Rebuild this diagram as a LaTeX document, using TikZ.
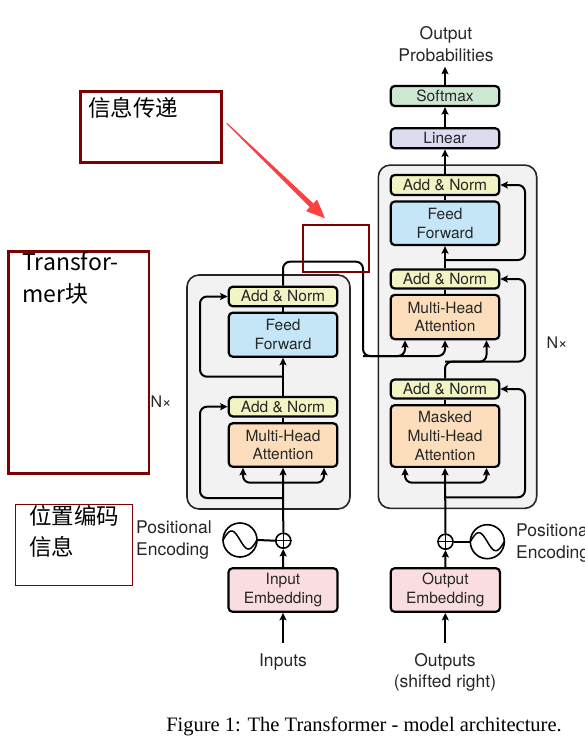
\documentclass[tikz,border=0pt]{standalone}
\usepackage{fontspec}
\setmainfont{TeX Gyre Heros}
\newfontfamily\cjkfont{Noto Sans CJK SC}
\newfontfamily\capfont{Liberation Serif}
\usetikzlibrary{arrows.meta,calc}
\definecolor{annred}{HTML}{7F0000}
\definecolor{arrred}{HTML}{FF4040}
\definecolor{cAN}{HTML}{F2F4C4}
\definecolor{cFF}{HTML}{C4E6F6}
\definecolor{cMHA}{HTML}{FCDEBD}
\definecolor{cEmb}{HTML}{FADDE1}
\definecolor{cLin}{HTML}{DCDCF1}
\definecolor{cSoft}{HTML}{CDE8D2}
\definecolor{cGray}{HTML}{F2F2F2}
\begin{document}
\begin{tikzpicture}[x=1pt,y=-1pt,
 blk/.style={draw=black, line width=2.2pt, rounded corners=4pt, minimum width=108.5pt, inner sep=0pt, align=center, text=black!85, font=\fontsize{15.5}{18.5}\selectfont},
 boxS/.style={blk, minimum height=19.5pt},
 boxL/.style={blk, minimum height=43.5pt},
 panel/.style={draw=black!85, line width=1.6pt, fill=cGray, rounded corners=12pt, inner sep=0pt},
 conn/.style={line width=2pt, draw=black},
 arr/.style={-{Stealth[length=7.5pt,width=7pt,inset=1.5pt]}},
 rc/.style={rounded corners=7pt},
 lbl/.style={text=black!85, font=\fontsize{17.5}{22}\selectfont, inner sep=0pt, align=center},
 pluscirc/.style={circle, draw, line width=1.6pt, minimum size=15pt, inner sep=0pt, fill=white},
 sinecirc/.style={circle, draw, line width=1.6pt, minimum size=34pt, inner sep=0pt},
 annbox/.style={draw=annred, line width=2.5pt},
 anntext/.style={font=\cjkfont\fontsize{22.5}{31.5}\selectfont, inner sep=0pt, anchor=west, align=left, text=black},
]
\useasboundingbox (0,0) rectangle (584,739);

% panels
\node[panel, minimum width=163pt, minimum height=234pt] (encP) at (268.5,392) {};
\node[panel, minimum width=158.4pt, minimum height=343.3pt] (decP) at (457.5,336.7) {};

% encoder blocks
\node[boxS, fill=cAN] (eAN2) at (283,296.5) {Add \& Norm};
\node[boxL, fill=cFF, minimum height=44pt] (eFF) at (283,334.7) {Feed\\Forward};
\node[boxS, fill=cAN] (eAN1) at (283,406.7) {Add \& Norm};
\node[boxL, fill=cMHA] (eMHA) at (283,445) {Multi-Head\\Attention};
\node[boxL, fill=cEmb, minimum width=109pt] (eEmb) at (283,590) {Input\\Embedding};
\node[pluscirc] (pe) at (283.3,540.7) {};
\node[sinecirc] (se) at (240,540) {};

% decoder blocks
\node[boxS, fill=cSoft, minimum height=20pt] (soft) at (445,96) {Softmax};
\node[boxS, fill=cLin, minimum height=20pt] (lin) at (445,138.3) {Linear};
\node[boxS, fill=cAN, minimum height=20pt] (dAN3) at (445,185) {Add \& Norm};
\node[boxL, fill=cFF] (dFF) at (445,223.3) {Feed\\Forward};
\node[boxS, fill=cAN, minimum height=19pt] (dAN2) at (445,279) {Add \& Norm};
\node[boxL, fill=cMHA, minimum height=44.3pt] (dMHA) at (445,317) {Multi-Head\\Attention};
\node[boxS, fill=cAN, minimum height=19pt] (dAN1) at (445,389) {Add \& Norm};
\node[boxL, fill=cMHA, minimum height=61.7pt, font=\fontsize{15.5}{19.2}\selectfont] (dMMHA) at (445,436) {Masked\\Multi-Head\\Attention};
\node[boxL, fill=cEmb, minimum width=109.3pt] (dEmb) at (445.3,590) {Output\\Embedding};
\node[pluscirc] (pd) at (445.5,541.7) {};
\node[sinecirc] (sd) at (487.3,541.7) {};

% labels
\node[lbl] (outprob) at (446,44) {Output\\Probabilities};
\node[lbl] (inputs) at (283,661.7) {Inputs};
\node[lbl, font=\fontsize{17.5}{21}\selectfont] (outputs) at (445,672.2) {Outputs\\(shifted right)};
\node[lbl, anchor=west, align=left] (peL) at (136,540.5) {Positional\\Encoding};
\node[lbl, anchor=west, align=left] (peR) at (516,543) {Positional\\Encoding};
\node[lbl, font=\fontsize{16}{19}\selectfont] (nxL) at (161,401.7) {N×};
\node[lbl, font=\fontsize{16}{19}\selectfont] (nxR) at (557,343) {N×};

% plus signs and sine waves
\foreach \c in {pe,pd}{
  \draw[line width=1.4pt] (\c.north) -- (\c.south) (\c.west) -- (\c.east);
}
\draw[line width=1.5pt, shift={(se.center)}] plot[domain=-17:17, samples=60, smooth] (\x,{9*sin(\x*180/17)});
\draw[line width=1.5pt, shift={(sd.center)}] plot[domain=-17:17, samples=60, smooth] (\x,{9*sin(\x*180/17)});

% coordinates
\coordinate (inArr) at (283,643);
\coordinate (outArr) at (445.3,643);
\coordinate (probArr) at (445,66.7);
\coordinate (eLeft) at (200,0);
\coordinate (dRight) at (525,0);
\coordinate (eSplit) at (283,482.7);
\coordinate (eR1) at (283,498);
\coordinate (eR2) at (283,376.7);
\coordinate (eTurn) at (363,261.7);
\coordinate (eDown) at (363,356);
\coordinate (dSplit) at (445,482.7);
\coordinate (dR1) at (445,497.3);
\coordinate (dQ) at (445,361.7);
\coordinate (dR3) at (445,260);

% encoder connectors
\draw[conn,arr] (inArr) -- (eEmb.south);
\draw[conn,arr] (eEmb.north) -- (pe.south);
\draw[conn] (se.east) -- (pe.west);
\draw[conn,arr] (pe.north) -- (eMHA.south);
\draw[conn,rc,arr] (eSplit) -| ([xshift=-40pt]eMHA.south);
\draw[conn,rc,arr] (eSplit) -| ([xshift=41pt]eMHA.south);
\draw[conn,rc,arr] (eR1) -- (eR1 -| eLeft) |- (eAN1.west);
\draw[conn] (eMHA.north) -- (eAN1.south);
\draw[conn,arr] (eAN1.north) -- (eFF.south);
\draw[conn,rc,arr] (eR2) -- (eR2 -| eLeft) |- (eAN2.west);
\draw[conn] (eFF.north) -- (eAN2.south);
\draw[conn,rc,arr] (eAN2.north) |- (eTurn) -- (eDown) -| (dMHA.south);
\draw[conn,rc,arr] (eDown) -| ([xshift=-40pt]dMHA.south);

% decoder connectors
\draw[conn,arr] (outArr) -- (dEmb.south);
\draw[conn,arr] (dEmb.north) -- (pd.south);
\draw[conn] (sd.west) -- (pd.east);
\draw[conn,arr] (pd.north) -- (dMMHA.south);
\draw[conn,rc,arr] (dSplit) -| ([xshift=-40pt]dMMHA.south);
\draw[conn,rc,arr] (dSplit) -| ([xshift=41.5pt]dMMHA.south);
\draw[conn,rc,arr] (dR1) -- (dR1 -| dRight) |- (dAN1.east);
\draw[conn] (dMMHA.north) -- (dAN1.south);
\draw[conn,rc,arr] (dAN1.north) -- (dQ) -- (dQ -| dRight) |- (dAN2.east);
\draw[conn,rc,arr] (dQ) -| ([xshift=41.5pt]dMHA.south);
\draw[conn] (dMHA.north) -- (dAN2.south);
\draw[conn,arr] (dAN2.north) -- (dFF.south);
\draw[conn,rc,arr] (dR3) -- (dR3 -| dRight) |- (dAN3.east);
\draw[conn] (dFF.north) -- (dAN3.south);
\draw[conn,arr] (dAN3.north) -- (lin.south);
\draw[conn,arr] (lin.north) -- (soft.south);
\draw[conn,arr] (soft.north) -- (probArr);

% caption
\node[inner sep=0pt, font=\capfont\fontsize{20.5}{24}\selectfont] (cap) at (364,726.7) {Figure 1: The Transformer - model architecture.};

% annotations
\draw[annbox] (80.7,91.7) rectangle (221.7,162.7);
\node[anntext] (t1) at (88,108) {信息传递};
\draw[annbox, line width=2.3pt] (303.3,225) rectangle (369,271.7);
\draw[annbox] (8.3,251.7) rectangle (149,473.3);
\node[anntext, anchor=north west, font=\cjkfont\fontsize{23}{31.7}\selectfont] (t2) at (22,252) {Transfor-\\mer块};
\draw[annbox, line width=1pt] (15,504.3) rectangle (132.3,585);
\node[anntext, anchor=north west] (t3) at (29,505) {位置编码\\信息};

% red arrow
\coordinate (ra1) at (226.7,123.3);
\coordinate (ra2) at (325,218.3);
\coordinate (raB) at ($(ra1)!118pt!(ra2)$);
\fill[arrred] ($(ra1)!0.6pt!90:(ra2)$) -- ($(raB)!2.6pt!90:(ra2)$) -- ($(raB)!8pt!90:(ra2)$) -- (ra2) -- ($(raB)!8pt!-90:(ra2)$) -- ($(raB)!2.6pt!-90:(ra2)$) -- ($(ra1)!0.6pt!-90:(ra2)$) -- cycle;
\end{tikzpicture}
\end{document}
